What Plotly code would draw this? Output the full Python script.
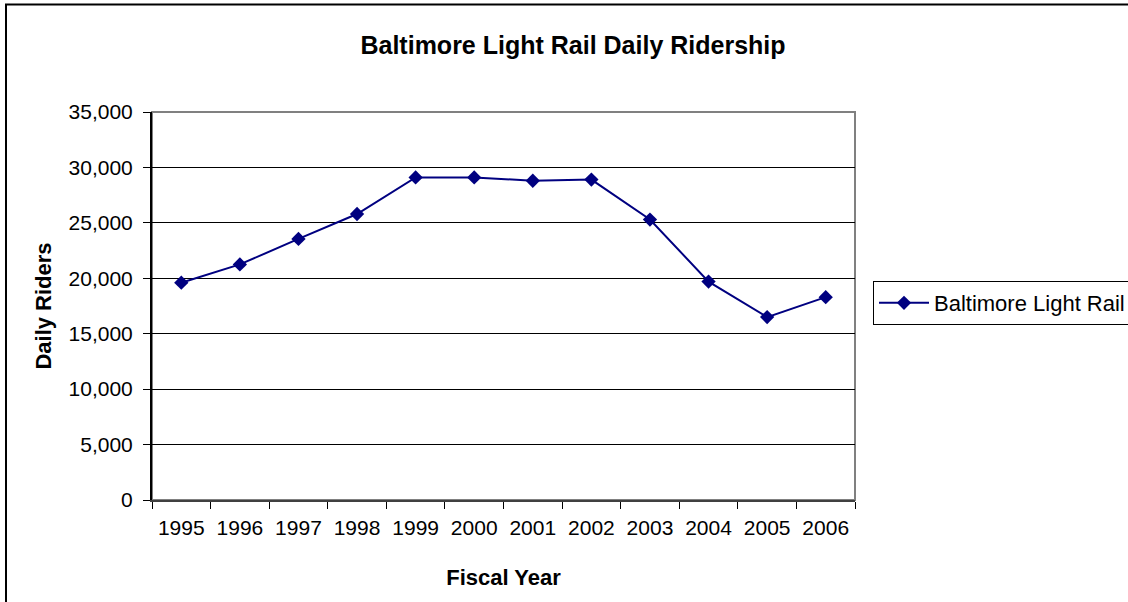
import plotly.graph_objects as go

years = ["1995", "1996", "1997", "1998", "1999", "2000",
         "2001", "2002", "2003", "2004", "2005", "2006"]
riders = [19600, 21250, 23550, 25800, 29100, 29100,
          28800, 28900, 25300, 19700, 16500, 18300]
series_name = "Baltimore Light Rail"
y_ticks = [0, 5000, 10000, 15000, 20000, 25000, 30000, 35000]

W, H = 1128, 602
L, R, T, B = 152, 273, 112, 102
pw, ph = W - L - R, H - T - B

FONT = "Liberation Sans, Arial, sans-serif"

fig = go.Figure()
fig.add_trace(go.Scatter(
    x=years, y=riders, name=series_name, mode="lines+markers",
    line=dict(color="#000080", width=2),
    marker=dict(symbol="diamond", size=11, color="#000080"),
    showlegend=True,
))

def px_x(p):
    return (p - L) / pw

def px_y(p):
    return (H - B - p) / ph

shapes = [
    # plot area border (gray)
    dict(type="rect", xref="paper", yref="paper", x0=0, x1=1, y0=0, y1=1,
         line=dict(color="#808080", width=2), layer="below"),
    # outer chart border
    dict(type="rect", xref="paper", yref="paper",
         x0=px_x(6), x1=px_x(1150), y0=px_y(620), y1=px_y(4.5),
         line=dict(color="#000000", width=2), layer="above"),
]

fig.update_layout(
    width=W, height=H,
    margin=dict(l=L, r=R, t=T, b=B, autoexpand=False),
    paper_bgcolor="white", plot_bgcolor="white",
    font=dict(family=FONT, size=21, color="#000000"),
    title=dict(text="<b>Baltimore Light Rail Daily Ridership</b>",
               x=573 / W, xref="container", xanchor="center",
               y=1 - 45 / H, yref="container", yanchor="middle",
               font=dict(family=FONT, size=25, color="#000000")),
    showlegend=True,
    legend=dict(x=px_x(873), xanchor="left", y=px_y(303), yanchor="middle",
                bordercolor="#000000", borderwidth=1, bgcolor="white",
                font=dict(family=FONT, size=22, color="#000000"),
                itemwidth=50),
    shapes=shapes,
    hovermode=False,
)

fig.update_xaxes(
    type="category", categoryorder="array", categoryarray=years,
    range=[-0.5, len(years) - 0.5],
    showline=True, linecolor="#404040", linewidth=2, mirror=False,
    ticks="outside", ticklen=7, tickwidth=1, tickcolor="#000000",
    tickson="boundaries", showgrid=False, ticklabelstandoff=8,
    tickfont=dict(family=FONT, size=21, color="#000000"),
    title=dict(text="<b>Fiscal Year</b>", standoff=31,
               font=dict(family=FONT, size=22, color="#000000")),
    automargin=False, fixedrange=True,
)
fig.update_yaxes(
    range=[0, 35000], tickvals=y_ticks, tickformat=",",
    showline=True, linecolor="#000000", linewidth=2,
    ticks="outside", ticklen=7, tickwidth=1, tickcolor="#000000",
    showgrid=True, gridcolor="#000000", gridwidth=1,
    zeroline=False, ticklabelstandoff=6,
    tickfont=dict(family=FONT, size=21, color="#000000"),
    title=dict(text="<b>Daily Riders</b>", standoff=11,
               font=dict(family=FONT, size=22, color="#000000")),
    automargin=False, fixedrange=True,
)

fig.write_html("out.html",
               config={"displayModeBar": False, "staticPlot": True},
               post_script="document.body.style.margin='0';")
